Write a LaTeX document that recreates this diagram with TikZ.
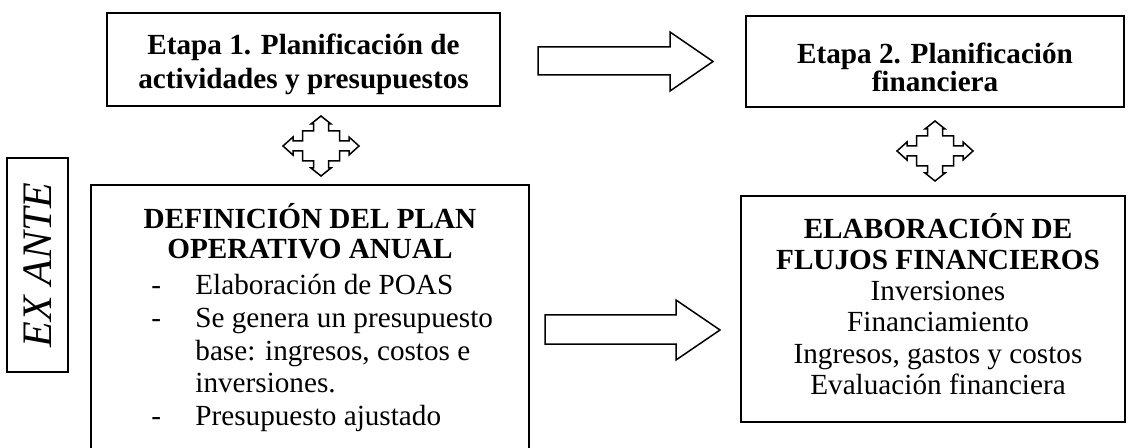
\documentclass[tikz,border=0pt]{standalone}
\usepackage{fontspec}
\setmainfont{Liberation Serif}
\usepackage{tikz}
\usetikzlibrary{positioning,calc}

% flecha de cuatro puntas centrada en #1
\newcommand\flechacruz[1]{%
	\draw[flecha,shift={(#1)}] (0,-30) -- (10,-22) -- (7.5,-22) -- (7.5,-15) -- (18.5,-15) -- (18.5,-5) -- (28,-5) -- (28,-9) -- (38,0) -- (28,9) -- (28,5) -- (18.5,5) -- (18.5,15) -- (7.5,15) -- (7.5,22) -- (10,22) -- (0,30) -- (-10,22) -- (-7.5,22) -- (-7.5,15) -- (-18.5,15) -- (-18.5,5) -- (-28,5) -- (-28,9) -- (-38,0) -- (-28,-9) -- (-28,-5) -- (-18.5,-5) -- (-18.5,-15) -- (-7.5,-15) -- (-7.5,-22) -- (-10,-22) -- cycle;}

\begin{document}
\begin{tikzpicture}[x=0.5pt,y=-0.5pt,
		caja/.style={line width=1pt},
		flecha/.style={line width=0.75pt,fill=white},
		texto/.style={font=\fontsize{14.6}{16}\selectfont,inner sep=0pt}]
	\useasboundingbox (0,0) rectangle (1128,448);
	
	% cajas
	\draw[caja] (107,13) rectangle (500,106);
	\draw[caja] (746,16) rectangle (1124,107);
	\draw[caja] (91,185) rectangle (529,460);
	\draw[caja] (741,196) rectangle (1125,422);
	\draw[caja] (7,158) rectangle (68,372);
	
	% textos de las etapas
	\node[texto,align=center,font=\fontsize{14.6}{17}\selectfont\bfseries] (etapa1) at (303.5,64) {Etapa 1. Planificación de\\actividades y presupuestos};
	\node[texto,align=center,font=\fontsize{14.6}{14}\selectfont\bfseries] (etapa2) at (935,67) {Etapa 2. Planificación\\financiera};
	
	% plan operativo anual
	\node[texto,align=center,font=\fontsize{14.6}{15}\selectfont\bfseries] (poa) at (310,231) {DEFINICIÓN DEL PLAN\\OPERATIVO ANUAL};
	\node[texto,align=left,anchor=west,font=\fontsize{14.6}{16.3}\selectfont] (lista) at (151,353) {\makebox[22pt][l]{-}Elaboración de POAS\\
		\makebox[22pt][l]{-}Se genera un presupuesto\\
		\hspace*{22pt}base: ingresos, costos e\\
		\hspace*{22pt}inversiones.\\
		\makebox[22pt][l]{-}Presupuesto ajustado};
	
	% flujos financieros
	\node[texto,align=center,font=\fontsize{14.6}{15.6}\selectfont] (flujos) at (938,304) {\textbf{ELABORACIÓN DE}\\\textbf{FLUJOS FINANCIEROS}\\Inversiones\\Financiamiento\\Ingresos, gastos y costos\\Evaluación financiera};
	
	% ex ante
	\node[texto,rotate=90,font=\fontsize{21}{21}\selectfont\itshape] (exante) at (38,265) {EX ANTE};
	
	% flechas
	\draw[flecha] (538,47) -- (670,47) -- (670,32) -- (713,61.5) -- (670,91) -- (670,75) -- (538,75) -- cycle;
	\draw[flecha] (545,315) -- (676,315) -- (676,300) -- (720,330) -- (676,360) -- (676,344) -- (545,344) -- cycle;
	\flechacruz{321,146}
	\flechacruz{935,151}
\end{tikzpicture}
\end{document}
